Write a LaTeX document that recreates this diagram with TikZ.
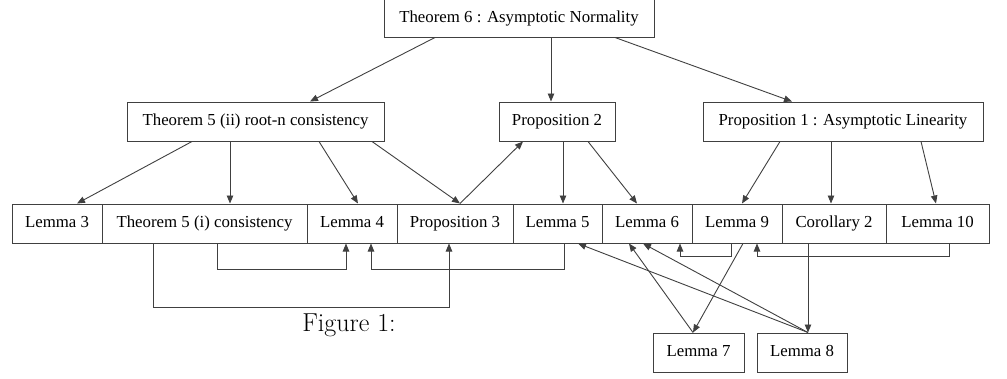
\documentclass[tikz,border=0pt]{standalone}
\usepackage{fontspec}
\newfontfamily\tnr{Liberation Serif}
\usetikzlibrary{arrows.meta}
\begin{document}
\begin{tikzpicture}[x=1pt,y=-1pt,
  box/.style={draw=black!75, line width=1pt, fill=white, inner sep=0pt,
    minimum height=39pt, text height=12pt, text depth=4pt,
    font=\tnr\fontsize{16.8}{20}\selectfont},
  arr/.style={draw=black!75, line width=0.9pt, -{Triangle[length=8pt,width=6.5pt]}},
  capt/.style={font=\fontsize{26}{30}\selectfont, inner sep=0pt, anchor=base}]
\useasboundingbox (0,0) rectangle (1007,378);
% top
\node[box, minimum width=270pt, minimum height=38pt] (t6) at (519,18) {Theorem 6 : Asymptotic Normality};
% middle row
\node[box, minimum width=257pt] (t5ii) at (255.5,121.5) {Theorem 5 (ii) root-n consistency};
\node[box, minimum width=116pt] (p2) at (557,121.5) {Proposition 2};
\node[box, minimum width=280pt] (p1) at (843,121.5) {Proposition 1 : Asymptotic Linearity};
% bottom row
\node[box, minimum width=90pt] (l3) at (57,223.5) {Lemma 3};
\node[box, minimum width=205pt] (t5i) at (204.5,223.5) {Theorem 5 (i) consistency};
\node[box, minimum width=90pt] (l4) at (352,223.5) {Lemma 4};
\node[box, minimum width=116pt] (p3) at (455,223.5) {Proposition 3};
\node[box, minimum width=89pt] (l5) at (557.5,223.5) {Lemma 5};
\node[box, minimum width=90pt] (l6) at (647,223.5) {Lemma 6};
\node[box, minimum width=90pt] (l9) at (737,223.5) {Lemma 9};
\node[box, minimum width=104pt] (c2) at (834,223.5) {Corollary 2};
\node[box, minimum width=103pt] (l10) at (937.5,223.5) {Lemma 10};
% lowest
\node[box, minimum width=91pt] (l7) at (698.5,352.5) {Lemma 7};
\node[box, minimum width=90pt] (l8) at (802,352.5) {Lemma 8};
% caption
\node[capt] (fig) at (349,331) {Figure 1:};
% arrows from top
\draw[arr] ([xshift=-84pt]t6.south) -- ([xshift=54.5pt]t5ii.north);
\draw[arr] ([xshift=32pt]t6.south) -- ([xshift=-6pt]p2.north);
\draw[arr] ([xshift=96pt]t6.south) -- ([xshift=-51pt]p1.north);
% from t5ii
\draw[arr] ([xshift=-63.5pt]t5ii.south) -- ([xshift=20pt]l3.north);
\draw[arr] ([xshift=-25.5pt]t5ii.south) -- ([xshift=25.5pt]t5i.north);
\draw[arr] ([xshift=63.5pt]t5ii.south) -- ([xshift=6pt]l4.north);
\draw[arr] ([xshift=116.5pt]t5ii.south) -- ([xshift=5pt]p3.north);
% p3 to p2
\draw[arr] ([xshift=5pt]p3.north) -- ([xshift=-34pt]p2.south);
% from p2
\draw[arr] ([xshift=6pt]p2.south) -- ([xshift=5.5pt]l5.north);
\draw[arr] ([xshift=31pt]p2.south) -- ([xshift=-10pt]l6.north);
% from p1
\draw[arr] ([xshift=-63pt]p1.south) -- ([xshift=5pt]l9.north);
\draw[arr] ([xshift=-12pt]p1.south) -- ([xshift=-3pt]c2.north);
\draw[arr] ([xshift=78pt]p1.south) -- ([xshift=-1.5pt]l10.north);
% elbows below bottom row
\draw[arr] ([xshift=12.5pt]t5i.south) -- ++(0,26) -| ([xshift=-6pt]l4.south);
\draw[arr] ([xshift=-51.5pt]t5i.south) -- ++(0,64) -| ([xshift=-6pt]p3.south);
\draw[arr] ([xshift=6.5pt]l5.south) -- ++(0,26) -| ([xshift=19pt]l4.south);
\draw[arr] ([xshift=-6pt]l9.south) -- ++(0,13) -| ([xshift=33pt]l6.south);
\draw[arr] ([xshift=11.5pt]l10.south) -- ++(0,13) -| ([xshift=20pt]l9.south);
% to/from lemma 7, 8
\draw[arr] ([xshift=-26pt]c2.south) -- ([xshift=6pt]l8.north);
\draw[arr] ([xshift=6pt]l9.south) -- ([xshift=-5.5pt]l7.north);
\draw[arr] ([xshift=-5.5pt]l7.north) -- ([xshift=-18pt]l6.south);
\draw[arr] ([xshift=6pt]l8.north) -- ([xshift=20.5pt]l5.south);
\draw[arr] ([xshift=6pt]l8.north) -- ([xshift=-4pt]l6.south);
\end{tikzpicture}
\end{document}
